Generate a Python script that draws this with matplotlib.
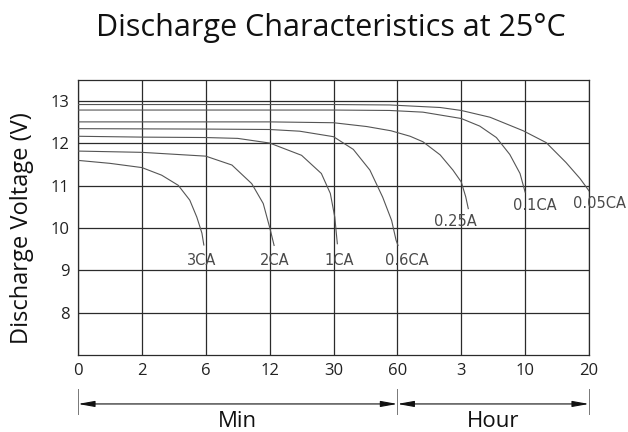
"""Discharge characteristics at 25 degC, redrawn from the datasheet chart."""
import matplotlib
matplotlib.use("Agg")
import matplotlib.pyplot as plt

plt.rcParams["font.family"] = ["Open Sans", "DejaVu Sans"]

# x positions are tick slots: 0,2,6,12,30,60 min then 3,10,20 h
TICK_LABELS = ["0", "2", "6", "12", "30", "60", "3", "10", "20"]
Y_TICKS = [8, 9, 10, 11, 12, 13]

X_3CA = [0, 0.5, 1.0, 1.31, 1.57, 1.75, 1.86, 1.94, 1.97]
V_3CA = [11.60, 11.53, 11.43, 11.25, 11.01, 10.66, 10.26, 9.88, 9.60]

X_2CA = [0, 1, 2, 2.41, 2.72, 2.9, 3.0, 3.07]
V_2CA = [11.82, 11.79, 11.70, 11.49, 11.05, 10.58, 10.02, 9.59]

X_1CA = [0, 1, 2, 2.5, 3, 3.5, 3.81, 3.95, 4.02, 4.06]
V_1CA = [12.17, 12.15, 12.14, 12.12, 12.01, 11.72, 11.29, 10.82, 10.26, 9.63]

X_06CA = [0, 2, 3, 3.47, 4, 4.31, 4.57, 4.77, 4.91, 4.98, 5.01]
V_06CA = [12.35, 12.34, 12.33, 12.29, 12.16, 11.86, 11.37, 10.73, 10.18, 9.71, 9.59]

X_025A = [0, 3, 4, 4.52, 4.9, 5.2, 5.4, 5.67, 5.87, 6.0, 6.07, 6.11]
V_025A = [12.51, 12.51, 12.49, 12.40, 12.30, 12.17, 12.04, 11.73, 11.37, 11.09, 10.74, 10.46]

X_01CA = [0, 4, 4.88, 5.4, 6.0, 6.29, 6.55, 6.76, 6.92, 7.0]
V_01CA = [12.79, 12.79, 12.78, 12.74, 12.59, 12.41, 12.14, 11.74, 11.29, 10.85]

X_005CA = [0, 4, 4.88, 5.67, 6.0, 6.45, 6.97, 7.33, 7.64, 7.86, 8.0]
V_005CA = [12.92, 12.92, 12.91, 12.85, 12.78, 12.62, 12.30, 12.02, 11.55, 11.17, 10.88]

CURVES = [
    ("3CA", X_3CA, V_3CA, (-2, -15)),
    ("2CA", X_2CA, V_2CA, (1, -15)),
    ("1CA", X_1CA, V_1CA, (2, -17)),
    ("0.6CA", X_06CA, V_06CA, (9, -15)),
    ("0.25A", X_025A, V_025A, (-13, -13)),
    ("0.1CA", X_01CA, V_01CA, (10, -13)),
    ("0.05CA", X_005CA, V_005CA, (10, -13)),
]

GRID = "#2b2b2b"
CURVE = "#555555"

fig = plt.figure(figsize=(6.28, 4.32), dpi=100)
ax = fig.add_axes([78 / 628, 1 - 355 / 432, 511 / 628, 275 / 432])

for name, xs, vs, off in CURVES:
    ax.plot(xs, vs, color=CURVE, linewidth=0.8, zorder=3)
    ax.annotate(name, xy=(xs[-1], vs[-1]), xytext=off,
                textcoords="offset pixels", ha="center", va="center",
                fontsize=10.5, color="#4a4a4a", family=["DejaVu Sans"])

ax.set_xlim(0, len(TICK_LABELS) - 1)
ax.set_ylim(7, 13.5)
ax.set_xticks(range(len(TICK_LABELS)))
ax.set_xticklabels(TICK_LABELS)
ax.set_yticks(Y_TICKS)
ax.tick_params(length=0, labelsize=12, labelcolor="#222222", pad=6)
ax.grid(True, color=GRID, linewidth=0.9)
for s in ax.spines.values():
    s.set_color(GRID)
    s.set_linewidth(0.9)

ax.set_ylabel("Discharge Voltage (V)", fontsize=17, color="#111111")
ax.yaxis.set_label_coords(-0.086, 0.46)
fig.text(0.527, 0.935, "Discharge Characteristics at 25\u00b0C", ha="center",
         va="center", fontsize=22, color="#111111")

# Min / Hour span arrows under the axis
trans = ax.get_xaxis_transform()
ya = -0.178
for x0, x1, lab in [(0, 5, "Min"), (5, 8, "Hour")]:
    ax.annotate("", xy=(x0, ya), xytext=(x1, ya), xycoords=trans,
                arrowprops=dict(arrowstyle="<|-|>,head_length=1.0,head_width=0.18",
                                color="#111111", linewidth=0.8,
                                shrinkA=0, shrinkB=0))
    ax.text((x0 + x1) / 2, -0.243, lab, transform=trans, ha="center",
            va="center", fontsize=16, color="#111111", clip_on=False)
for xv in [0, 5, 8]:
    ax.plot([xv, xv], [-0.125, -0.215], transform=trans, color="#777777",
            linewidth=0.7, clip_on=False)

fig.savefig("out.png", dpi=100)
